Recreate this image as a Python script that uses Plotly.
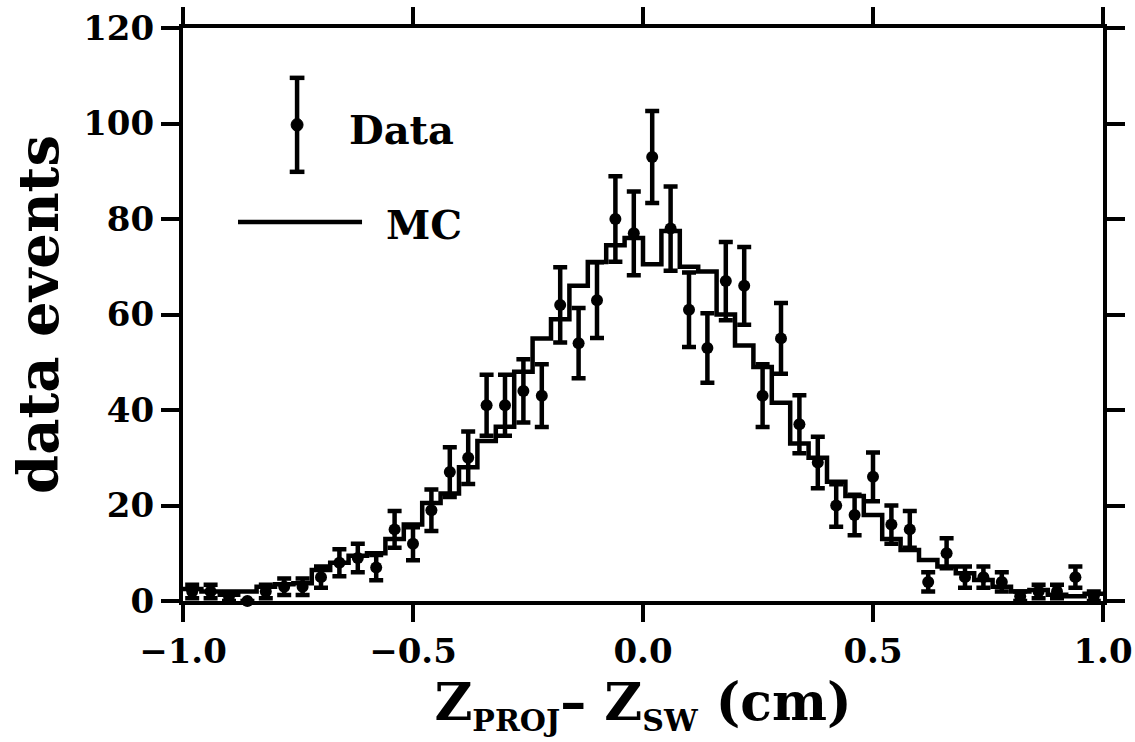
import plotly.graph_objects as go

# ---- data ----
bin_edges = [round(-1.0 + 0.04 * k, 2) for k in range(51)]
bin_centers = [round(-0.98 + 0.04 * k, 2) for k in range(50)]

data_counts = [2, 2, 1, 0, 2, 3, 3, 5, 8, 9,
               7, 15, 12, 19, 27, 30, 41, 41, 44, 43,
               62, 54, 63, 80, 77, 93, 78, 61, 53, 67,
               66, 43, 55, 37, 29, 20, 18, 26, 16, 15,
               4, 10, 5, 5, 4, 1, 2, 2, 5, 1]

mc_counts = [2.5, 2, 1.3, 2, 3, 3.5, 3.7, 6.5, 8, 9.5,
             10, 13, 16, 20.5, 22.5, 28, 33.5, 36.5, 48, 55,
             59, 66, 71, 74.5, 76, 70.5, 77.5, 70, 69, 60,
             53.5, 49, 41.5, 33, 30, 25, 22, 18, 13, 10.7,
             8.6, 7.2, 5.8, 4.4, 3, 2, 2.3, 1.3, 1, 1.5]

x_ticks = [-1.0, -0.5, 0.0, 0.5, 1.0]
x_ticklabels = ["\u22121.0", "\u22120.5", "0.0", "0.5", "1.0"]
y_ticks = [0, 20, 40, 60, 80, 100, 120]

FONT = "DejaVu Serif"
BLACK = "black"

fig = go.Figure()

# MC histogram as a step line through bin edges
fig.add_trace(go.Scatter(
    x=bin_edges,
    y=mc_counts + [mc_counts[-1]],
    mode="lines",
    line=dict(shape="hv", color=BLACK, width=4.5),
    showlegend=False,
    cliponaxis=False,
))

# Data points with sqrt(N) error bars
fig.add_trace(go.Scatter(
    x=bin_centers,
    y=data_counts,
    mode="markers",
    marker=dict(color=BLACK, size=12),
    error_y=dict(type="sqrt", color=BLACK, thickness=4.5, width=7),
    showlegend=False,
    cliponaxis=False,
))

# ---- legend drawn in paper coordinates ----
shapes = [
    dict(type="line", xref="paper", yref="paper", x0=0.124, x1=0.124, y0=0.749, y1=0.913,
         line=dict(color=BLACK, width=4.5)),
    dict(type="line", xref="paper", yref="paper", x0=0.116, x1=0.132, y0=0.913, y1=0.913,
         line=dict(color=BLACK, width=4.5)),
    dict(type="line", xref="paper", yref="paper", x0=0.116, x1=0.132, y0=0.749, y1=0.749,
         line=dict(color=BLACK, width=4.5)),
    dict(type="circle", xref="paper", yref="paper", x0=0.1175, x1=0.1305, y0=0.820, y1=0.842,
         fillcolor=BLACK, line=dict(color=BLACK, width=1)),
    dict(type="line", xref="paper", yref="paper", x0=0.0598, x1=0.1946, y0=0.6614, y1=0.6614,
         line=dict(color=BLACK, width=4.5)),
]

annotations = [
    dict(text="<b>Data</b>", xref="paper", yref="paper", x=0.178, y=0.823,
         xanchor="left", yanchor="middle", showarrow=False,
         font=dict(family=FONT, size=40, color=BLACK)),
    dict(text="<b>MC</b>", xref="paper", yref="paper", x=0.218, y=0.657,
         xanchor="left", yanchor="middle", showarrow=False,
         font=dict(family=FONT, size=40, color=BLACK)),
]

fig.update_layout(
    width=1135, height=742,
    margin=dict(l=183, r=32, t=28, b=141, autoexpand=False),
    paper_bgcolor="white", plot_bgcolor="white",
    shapes=shapes, annotations=annotations,
    font=dict(family=FONT, color=BLACK),
)

fig.update_xaxes(
    range=[-1.0, 1.0], automargin=False,
    tickmode="array", tickvals=x_ticks, ticktext=x_ticklabels,
    ticks="outside", ticklen=17, tickwidth=3.5, tickcolor=BLACK,
    showline=True, linewidth=4, linecolor=BLACK, mirror="ticks",
    showgrid=False, zeroline=False,
    tickfont=dict(family=FONT, size=34, color=BLACK, weight="bold"),
    title=dict(text="Z<sub><span style='font-size:30px'>PROJ</span></sub>\u2013 Z<sub><span style='font-size:30px'>SW</span></sub> (cm)",
               font=dict(family=FONT, size=52, color=BLACK, weight="bold"),
               standoff=2),
)

fig.update_yaxes(
    range=[0, 120], automargin=False,
    tickmode="array", tickvals=y_ticks,
    ticks="outside", ticklen=18, tickwidth=3.5, tickcolor=BLACK,
    showline=True, linewidth=4, linecolor=BLACK, mirror="ticks",
    showgrid=False, zeroline=False,
    tickfont=dict(family=FONT, size=34, color=BLACK, weight="bold"),
    title=dict(text="data events",
               font=dict(family=FONT, size=56, color=BLACK, weight="bold"),
               standoff=8),
)

fig.write_html("out.html")
